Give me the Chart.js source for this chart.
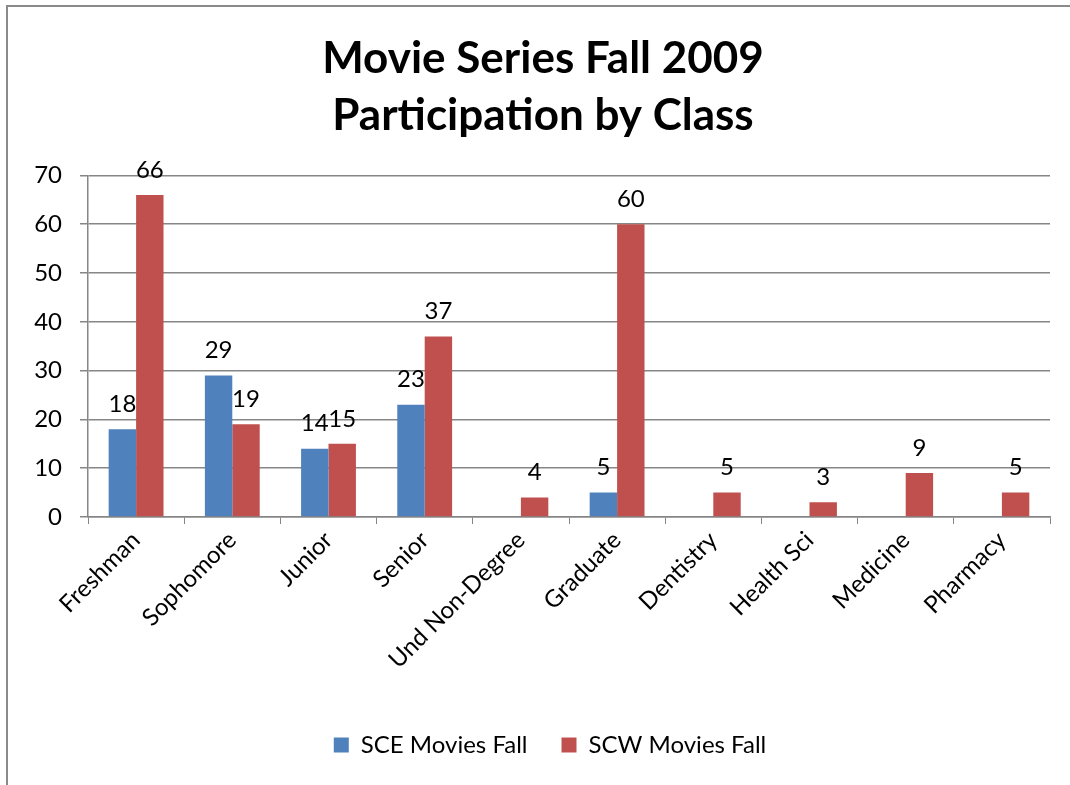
<!DOCTYPE html>
<html>
<head>
<meta charset="utf-8">
<script src="https://cdn.jsdelivr.net/npm/chart.js@4.4.1/dist/chart.umd.min.js"></script>
<style>
  html, body { margin: 0; padding: 0; background: #ffffff; }
  #wrap { width: 1070px; height: 785px; position: relative; }
</style>
</head>
<body>
<div id="wrap"><canvas id="c" width="1070" height="785"></canvas></div>
<script>
const categories = ["Freshman", "Sophomore", "Junior", "Senior", "Und Non-Degree", "Graduate", "Dentistry", "Health Sci", "Medicine", "Pharmacy"];
const sceValues = [18, 29, 14, 23, null, 5, null, null, null, null];
const scwValues = [66, 19, 15, 37, 4, 60, 5, 3, 9, 5];
const seriesNames = ["SCE Movies Fall", "SCW Movies Fall"];
const titleLines = ["Movie Series Fall 2009", "Participation by Class"];
const yTicks = [0, 10, 20, 30, 40, 50, 60, 70];

const FONT = "Lato, 'Open Sans', sans-serif";

const borderPlugin = {
  id: 'outerBorder',
  beforeDraw(chart) {
    const ctx = chart.ctx;
    ctx.save();
    ctx.fillStyle = '#ffffff';
    ctx.fillRect(0, 0, chart.width, chart.height);
    ctx.strokeStyle = '#8a8a8a';
    ctx.lineWidth = 2;
    ctx.beginPath();
    ctx.moveTo(7, chart.height);
    ctx.lineTo(7, 6);
    ctx.lineTo(chart.width, 6);
    ctx.stroke();
    ctx.restore();
  }
};

// shift title and legend horizontally to match the reference's centring
const shiftBoxes = {
  id: 'shiftBoxes',
  afterLayout(chart) {
    const t = chart.titleBlock;
    if (t) { t.left += 14; t.right += 14; }
    const l = chart.legend;
    if (l) {
      l.left += 21; l.right += 21;
      if (l.legendHitBoxes) l.legendHitBoxes.forEach(h => { h.left += 21; });
    }
  }
};

const valueLabels = {
  id: 'valueLabels',
  afterDatasetsDraw(chart) {
    const ctx = chart.ctx;
    ctx.save();
    ctx.font = "24px " + FONT;
    ctx.fillStyle = '#000000';
    ctx.textAlign = 'center';
    ctx.textBaseline = 'middle';
    chart.data.datasets.forEach((ds, i) => {
      const meta = chart.getDatasetMeta(i);
      meta.data.forEach((bar, j) => {
        const v = ds.data[j];
        if (v === null || v === undefined) return;
        ctx.fillText(String(v), bar.x, bar.y - 25);
      });
    });
    ctx.restore();
  }
};

new Chart(document.getElementById('c'), {
  type: 'bar',
  data: {
    labels: categories,
    datasets: [
      { label: seriesNames[0], data: sceValues, backgroundColor: '#4F81BD', borderWidth: 0 },
      { label: seriesNames[1], data: scwValues, backgroundColor: '#C0504D', borderWidth: 0 }
    ]
  },
  options: {
    responsive: false,
    animation: false,
    devicePixelRatio: 1,
    layout: { padding: { left: 8, right: 20, top: 0, bottom: 18 } },
    datasets: { bar: { categoryPercentage: 0.57, barPercentage: 1.0 } },
    plugins: {
      title: {
        display: true,
        text: titleLines,
        color: '#000000',
        font: { family: FONT, size: 44, weight: 'bold', lineHeight: 1.3 },
        padding: { top: 30, bottom: 31 }
      },
      legend: {
        position: 'bottom',
        labels: {
          color: '#000000',
          font: { family: FONT, size: 24 },
          boxWidth: 15,
          boxHeight: 15,
          padding: 34
        }
      },
      tooltip: { enabled: false }
    },
    scales: {
      x: {
        grid: { display: true, drawOnChartArea: false, color: '#868686', tickLength: 7, offset: true },
        border: { color: '#868686', width: 1.5 },
        ticks: {
          color: '#000000',
          font: { family: FONT, size: 24 },
          minRotation: 45,
          maxRotation: 45,
          autoSkip: false,
          padding: 2
        },
        afterFit(axis) { axis.height = 182; }
      },
      y: {
        min: 0,
        max: 70,
        afterBuildTicks(axis) { axis.ticks = yTicks.map(v => ({ value: v })); },
        grid: { color: '#868686', lineWidth: 1.5, tickLength: 8 },
        border: { color: '#868686', width: 1.5 },
        ticks: {
          color: '#000000',
          font: { family: FONT, size: 24 },
          padding: 18
        },
        afterFit(axis) { axis.width = 80; }
      }
    }
  },
  plugins: [borderPlugin, shiftBoxes, valueLabels]
});
</script>
</body>
</html>
